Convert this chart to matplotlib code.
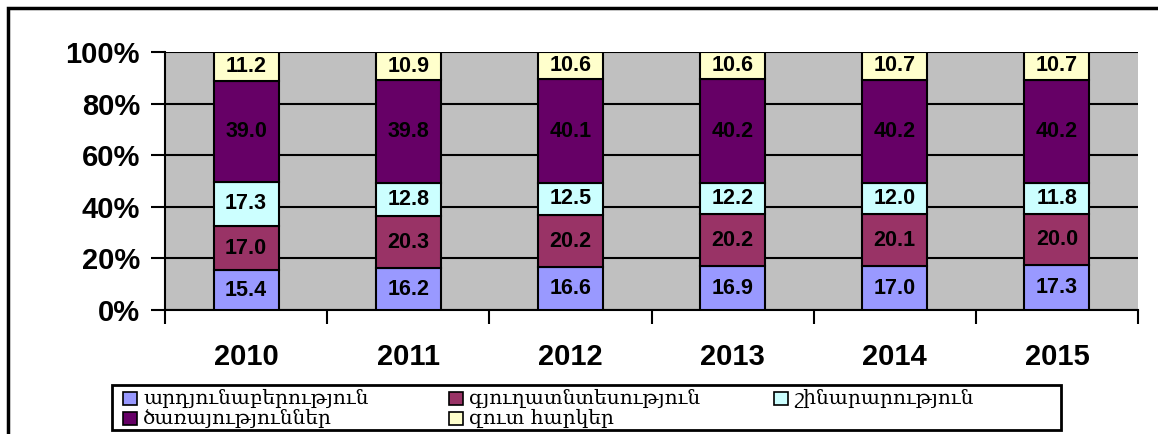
import matplotlib.pyplot as plt
from matplotlib.patches import Rectangle
import numpy as np

years = ["2010", "2011", "2012", "2013", "2014", "2015"]
sectors = [
    "արդյունաբերություն",
    "գյուղատնտեսություն",
    "շինարարություն",
    "ծառայություններ",
    "զուտ հարկեր",
]
industry = [15.4, 16.2, 16.6, 16.9, 17.0, 17.3]
agriculture = [17.0, 20.3, 20.2, 20.2, 20.1, 20.0]
construction = [17.3, 12.8, 12.5, 12.2, 12.0, 11.8]
services = [39.0, 39.8, 40.1, 40.2, 40.2, 40.2]
net_taxes = [11.2, 10.9, 10.6, 10.6, 10.7, 10.7]
colors = ["#9999FF", "#993366", "#CCFFFF", "#660066", "#FFFFCC"]

series = [industry, agriculture, construction, services, net_taxes]

W, H = 1158, 434
fig = plt.figure(figsize=(W / 100, H / 100), dpi=100)
ax = fig.add_axes([165 / W, 1 - 310 / H, 973 / W, 258 / H])
ax.set_facecolor("#C0C0C0")

x = np.arange(len(years))
totals = np.sum(series, axis=0)
bottom = np.zeros(len(years))
for vals, col in zip(series, colors):
    pct = np.array(vals) / totals * 100
    ax.bar(x, pct, width=0.4, bottom=bottom, color=col,
           edgecolor="black", linewidth=1.5, zorder=3)
    for xi, b, p, v in zip(x, bottom, pct, vals):
        ax.text(xi, b + p / 2, f"{v:.1f}", ha="center", va="center",
                fontsize=15.5, fontweight="bold", family="Liberation Sans",
                color="black", zorder=4)
    bottom += pct

ax.set_xlim(-0.5, len(years) - 0.5)
ax.set_ylim(0, 100)
ax.set_yticks(range(0, 101, 20))
ax.set_yticklabels([f"{v}%" for v in range(0, 101, 20)])
ax.yaxis.grid(True, color="black", linewidth=1.5, zorder=1)
ax.set_axisbelow(True)

ax.set_xticks(x)
ax.set_xticklabels(years)
ax.set_xticks(np.arange(-0.5, len(years), 1.0), minor=True)
ax.tick_params(axis="x", which="major", length=0, pad=24)
ax.tick_params(axis="x", which="minor", length=10, width=1.5, direction="out")
ax.tick_params(axis="y", length=10, width=1.5, direction="out", pad=8)
for lab in ax.get_xticklabels() + ax.get_yticklabels():
    lab.set_fontsize(21)
    lab.set_fontweight("bold")
    lab.set_family("Liberation Sans")

for side in ["top", "right"]:
    ax.spines[side].set_visible(False)
ax.spines["left"].set_linewidth(1.5)
ax.spines["bottom"].set_linewidth(1.5)

# outer chart frame
fig.patches.append(Rectangle((8 / W, -0.1), 1.2, 1 - 8 / H + 0.1,
                             transform=fig.transFigure, fill=False,
                             edgecolor="black", linewidth=2.5))

# legend box, laid out in three columns like the original
fig.patches.append(Rectangle((112 / W, 1 - 430 / H), 949 / W, 45 / H,
                             transform=fig.transFigure, fill=False,
                             edgecolor="black", linewidth=2))
col_x = [123, 449, 774]
row_y = [398.5, 418.5]
slots = [(0, 0), (1, 0), (2, 0), (0, 1), (1, 1)]
for name, col, (ci, ri) in zip(sectors, colors, slots):
    mx, my = col_x[ci], row_y[ri]
    fig.patches.append(Rectangle((mx / W, 1 - (my + 6.5) / H), 14 / W, 13 / H,
                                 transform=fig.transFigure, facecolor=col,
                                 edgecolor="black", linewidth=1.2))
    fig.text((mx + 20) / W, 1 - my / H, name, ha="left", va="center",
             family="DejaVu Serif", fontsize=14.5)

fig.savefig("out.png", dpi=100)
